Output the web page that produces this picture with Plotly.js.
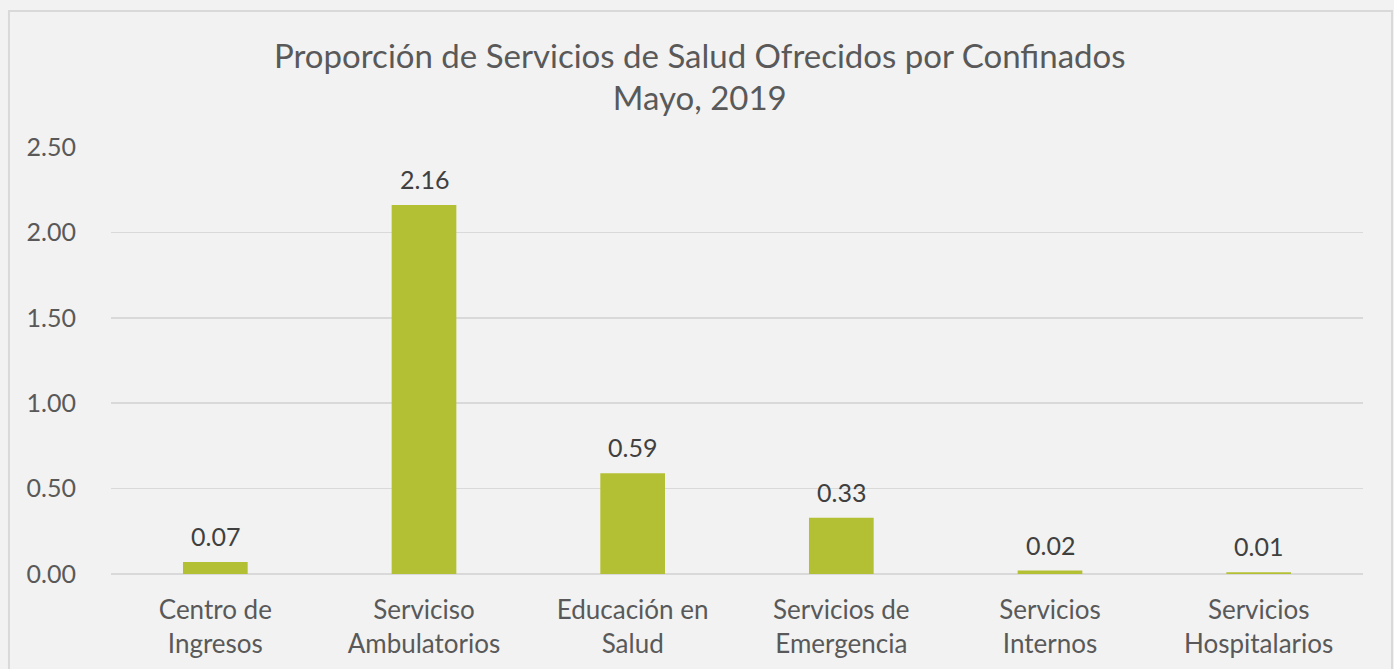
<!DOCTYPE html>
<html>
<head>
<meta charset="utf-8">
<script src="https://cdn.plot.ly/plotly-3.0.1.min.js"></script>
<style>
html,body{margin:0;padding:0;background:#f2f2f2;}
#chart{width:1394px;height:669px;}
</style>
</head>
<body>
<div id="chart"></div>
<script>
const categories = ["Centro de<br>Ingresos", "Serviciso<br>Ambulatorios", "Educación en<br>Salud", "Servicios de<br>Emergencia", "Servicios<br>Internos", "Servicios<br>Hospitalarios"];
const values = [0.07, 2.16, 0.59, 0.33, 0.02, 0.01];
const yTicks = [0, 0.5, 1.0, 1.5, 2.0, 2.5];

const FONT = "Lato, 'Open Sans', sans-serif";

const trace = {
  type: 'bar',
  x: categories,
  y: values,
  marker: {color: '#b4c034'},
  hoverinfo: 'none'
};

const labels = categories.map((c, i) => ({
  x: c, y: values[i], xref: 'x', yref: 'y',
  text: values[i].toFixed(2),
  showarrow: false,
  yanchor: 'bottom',
  yshift: 9,
  font: {family: FONT, size: 25, color: '#404040'}
}));

const layout = {
  width: 1394,
  height: 669,
  paper_bgcolor: '#f2f2f2',
  plot_bgcolor: '#f2f2f2',
  margin: {l: 111, r: 31, t: 147, b: 95},
  bargap: 0.69,
  font: {family: FONT, color: '#595959'},
  title: {
    text: 'Proporción de Servicios de Salud Ofrecidos por Confinados<br>Mayo, 2019',
    font: {family: FONT, size: 33, color: '#595959'},
    x: 0.502,
    xanchor: 'center',
    y: 0.899,
    yanchor: 'middle'
  },
  xaxis: {
    tickfont: {family: FONT, size: 26, color: '#595959'},
    showgrid: false,
    showline: false,
    ticks: '',
    ticklabelstandoff: 18
  },
  yaxis: {
    range: [0, 2.5],
    tickvals: yTicks,
    ticktext: yTicks.map(v => v.toFixed(2)),
    tickfont: {family: FONT, size: 25, color: '#595959'},
    gridcolor: '#d9d9d9',
    gridwidth: 1.5,
    zeroline: true,
    zerolinecolor: '#d9d9d9',
    zerolinewidth: 1.5,
    showline: false,
    ticks: '',
    ticklabelstandoff: 34
  },
  annotations: labels,
  shapes: [{
    type: 'rect', xref: 'paper', yref: 'paper',
    x0: -0.0815, x1: 1.0232, y0: -0.3, y1: 1.3185,
    line: {color: '#d9d9d9', width: 2},
    fillcolor: 'rgba(0,0,0,0)',
    layer: 'below'
  }],
  showlegend: false
};

Plotly.newPlot('chart', [trace], layout, {staticPlot: true});
</script>
</body>
</html>
